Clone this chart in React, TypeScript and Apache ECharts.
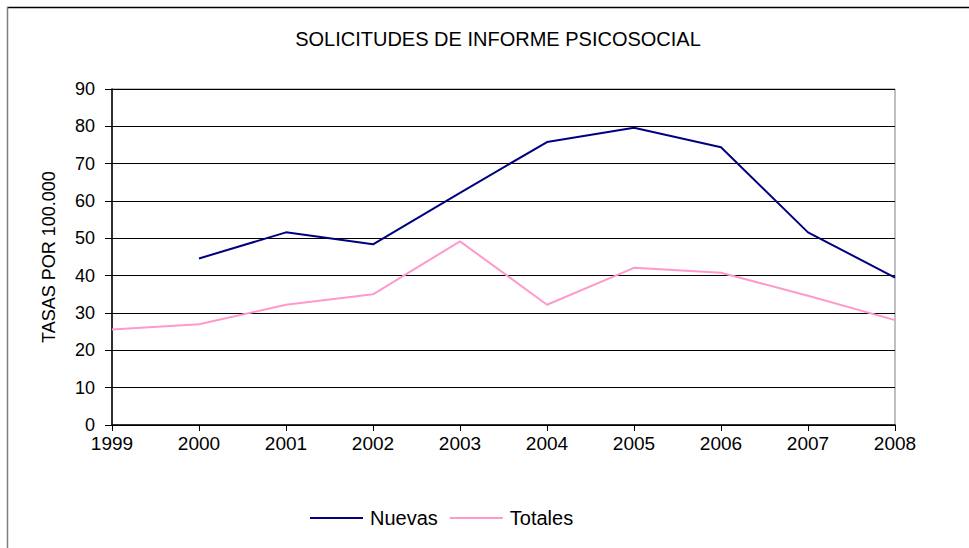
import React, { useEffect, useRef } from "react";
import * as echarts from "echarts";

const years = ["1999", "2000", "2001", "2002", "2003", "2004", "2005", "2006", "2007", "2008"];
const nuevas = [null, 44.6, 51.6, 48.4, 62.2, 75.8, 79.6, 74.4, 51.6, 39.5];
const totales = [25.6, 27.0, 32.2, 35.0, 49.2, 32.2, 42.1, 40.8, 34.6, 28.1];
const titleText = "SOLICITUDES DE INFORME PSICOSOCIAL";
const yAxisName = "TASAS POR 100.000";

const FONT = "'Liberation Sans', Arial, sans-serif";

export default function App() {
  const ref = useRef<HTMLDivElement>(null);
  useEffect(() => {
    if (!ref.current) return;
    const chart = echarts.init(ref.current, null, { renderer: "svg" });
    chart.setOption({
      animation: false,
      backgroundColor: "#ffffff",
      textStyle: { fontFamily: FONT, color: "#000" },
      title: {
        text: titleText,
        left: 493,
        top: 24,
        textAlign: "center",
        textStyle: { fontFamily: FONT, fontSize: 20, fontWeight: "normal", color: "#000" },
      },
      graphic: [
        { type: "line", shape: { x1: 7, y1: 7.5, x2: 969, y2: 7.5 }, style: { stroke: "#000", lineWidth: 1.5 } },
        { type: "line", shape: { x1: 7.5, y1: 7, x2: 7.5, y2: 548 }, style: { stroke: "#808080", lineWidth: 1.5 } },
      ],
      legend: {
        left: 305,
        top: 503,
        icon: "rect",
        itemWidth: 53,
        itemHeight: 2,
        itemGap: 12,
        textStyle: { fontFamily: FONT, fontSize: 20, color: "#000", padding: [0, 0, 0, 2] },
        data: ["Nuevas", "Totales"],
      },
      grid: {
        left: 112,
        right: 74,
        top: 89,
        bottom: 123,
        show: true,
        borderColor: "#808080",
        borderWidth: 1,
      },
      xAxis: {
        type: "category",
        data: years,
        boundaryGap: false,
        axisLine: { lineStyle: { color: "#000", width: 1.5 } },
        axisTick: { show: true, length: 6, lineStyle: { color: "#000" }, alignWithLabel: true },
        axisLabel: { fontFamily: FONT, fontSize: 19, color: "#000", margin: 9, interval: 0 },
        splitLine: { show: false },
      },
      yAxis: {
        type: "value",
        min: 0,
        max: 90,
        interval: 10,
        name: yAxisName,
        nameLocation: "middle",
        nameGap: 54,
        nameTextStyle: { fontFamily: FONT, fontSize: 18, color: "#000" },
        axisLine: { show: true, lineStyle: { color: "#000", width: 1.5 } },
        axisTick: { show: true, length: 7, lineStyle: { color: "#000" } },
        axisLabel: { fontFamily: FONT, fontSize: 18, color: "#000", margin: 17 },
        splitLine: { show: true, lineStyle: { color: "#000", width: 1 } },
      },
      series: [
        {
          name: "Nuevas",
          type: "line",
          data: nuevas,
          symbol: "none",
          lineStyle: { color: "#000080", width: 2 },
          itemStyle: { color: "#000080" },
        },
        {
          name: "Totales",
          type: "line",
          data: totales,
          symbol: "none",
          lineStyle: { color: "#ff99cc", width: 2 },
          itemStyle: { color: "#ff99cc" },
        },
      ],
    });
    return () => chart.dispose();
  }, []);
  return (
    <div
      ref={ref}
      style={{ position: "fixed", left: 0, top: 0, width: 969, height: 548 }}
    />
  );
}
